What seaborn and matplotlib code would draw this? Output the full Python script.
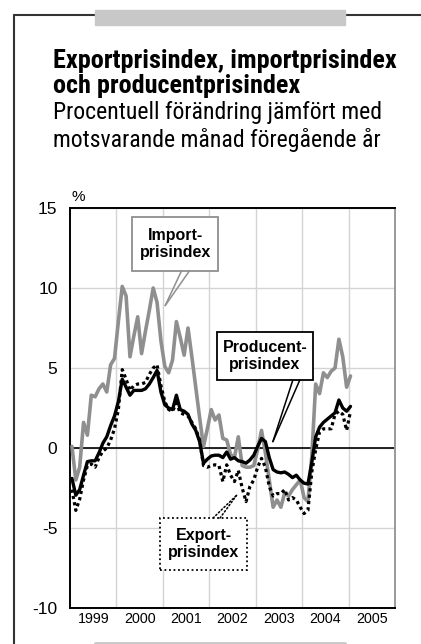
import pandas as pd
import seaborn as sns
import matplotlib.pyplot as plt
import matplotlib.font_manager as fm
from matplotlib.patches import Rectangle
from matplotlib.lines import Line2D

# månadsdata jan 1999 - jan 2005
manader = pd.date_range("1999-01-01", periods=73, freq="MS")

importpris = [0.1, -2.0, -1.2, 1.6, 0.8, 3.3, 3.2, 3.7, 4.0, 3.5, 5.2, 5.6,
              7.9, 10.1, 9.5, 5.7, 7.0, 8.2, 5.9, 7.3, 8.6, 10.0, 9.1, 6.7,
              5.1, 4.7, 5.5, 7.9, 6.9, 5.8, 7.5, 5.7, 3.8, 1.9, 0.1, 1.2,
              2.4, 1.75, 2.06, 0.6, 0.5, -0.4, -0.6, 0.7, -1.1, -1.2, -1.2, -1.1,
              -0.1, 1.1, -0.3, -2.0, -3.7, -3.25, -3.7, -2.8, -3.0, -2.6, -2.3, -2.0,
              -3.1, -3.35, -0.5, 4.0, 3.4, 4.7, 4.4, 4.8, 5.0, 6.8, 5.7, 3.8,
              4.5]

producentpris = [-1.9, -2.95, -2.6, -1.7, -0.85, -0.8, -0.8, -0.3, 0.3, 0.7, 1.4, 2.0,
                 2.9, 4.3, 3.8, 3.3, 3.6, 3.6, 3.6, 3.7, 4.0, 4.4, 4.85, 3.5,
                 2.7, 2.5, 2.4, 3.3, 2.4, 2.3, 2.1, 1.5, 1.1, 0.4, -0.95, -0.7,
                 -0.5, -0.45, -0.45, -0.6, -0.25, -0.7, -0.6, -0.8, -0.85, -0.95, -0.75, -0.45,
                 0.1, 0.6, 0.4, -0.6, -1.35, -1.5, -1.55, -1.5, -1.65, -1.85, -1.7, -2.0,
                 -2.2, -2.25, -0.9, 0.7, 1.3, 1.6, 1.8, 2.0, 2.2, 3.0, 2.5, 2.3,
                 2.6]

exportpris = [-2.6, -3.9, -3.2, -2.0, -1.1, -1.0, -1.2, -0.6, -0.2, 0.0, 0.5, 1.2,
              2.4, 4.9, 4.3, 3.6, 3.9, 4.0, 4.0, 4.1, 4.6, 5.0, 5.2, 3.9,
              2.9, 2.4, 2.3, 2.8, 2.2, 2.1, 2.0, 1.6, 1.2, 0.5, -1.1, -1.2,
              -1.1, -1.05, -1.1, -2.1, -1.05, -1.7, -2.1, -1.4, -2.5, -3.35, -2.4, -2.0,
              -1.2, -0.65, -1.2, -2.4, -3.0, -2.85, -2.85, -2.6, -3.25, -3.1, -3.25, -3.7,
              -4.1, -3.9, -1.5, -0.1, 1.0, 1.2, 1.2, 1.2, 2.1, 2.3, 2.1, 1.1,
              2.3]

ar = [1999, 2000, 2001, 2002, 2003, 2004, 2005]
yticks = [-10, -5, 0, 5, 10, 15]

df = pd.DataFrame({
    "tid": manader.year + (manader.month - 0.5) / 12,
    "Import": importpris,
    "Producent": producentpris,
    "Export": exportpris,
})

sns.set_style("white")
plt.rcParams["font.family"] = ["Liberation Sans", "DejaVu Sans"]
plt.rcParams["text.color"] = "black"
plt.rcParams["xtick.color"] = "black"
plt.rcParams["ytick.color"] = "black"


# smal font till rubriken om en sådan finns, annars Liberation Sans
def hitta_font(bold):
    for f in fm.fontManager.ttflist:
        namn = f.fname.lower()
        if not any(k in namn for k in ["narrow", "condensed"]):
            continue
        if not any(k in namn for k in ["liberation", "roboto", "notosans", "opensans", "lato", "inter"]):
            continue
        if any(k in namn for k in ["italic", "light", "thin", "semi", "extra", "black", "medium"]):
            continue
        if ("bold" in namn) == bold:
            return fm.FontProperties(fname=f.fname)
    return fm.FontProperties(family="Liberation Sans", weight="bold" if bold else "normal")


W, H = 421, 644
fig = plt.figure(figsize=(W / 100, H / 100), dpi=100)
ax = fig.add_axes([70 / W, 1 - 608 / H, 325 / W, 400 / H])

sns.lineplot(data=df, x="tid", y="Import", color="#8f8f8f", lw=2.6, ax=ax, zorder=3)
sns.lineplot(data=df, x="tid", y="Export", color="black", lw=2.3,
             linestyle=(0, (1, 1)), ax=ax, zorder=4)
sns.lineplot(data=df, x="tid", y="Producent", color="black", lw=2.4, ax=ax, zorder=5)

ax.set_xlim(1999, 2006)
ax.set_ylim(-10, 15)
ax.set_xticks(range(2000, 2006))
ax.set_xticklabels([])
ax.set_xticks([a + 0.5 for a in ar], minor=True)
ax.set_xticklabels([str(a) for a in ar], minor=True, fontsize=10.3)
ax.set_yticks(yticks)
ax.set_yticklabels([str(v) for v in yticks], fontsize=12.5)
ax.tick_params(which="both", length=0)
ax.tick_params(axis="x", which="minor", pad=3)
ax.tick_params(axis="y", pad=9)
ax.grid(True, which="major", color="#d4d4d4", lw=1)
ax.axhline(0, color="black", lw=1.2, zorder=2)
ax.set_xlabel("")
ax.set_ylabel("")

for s in ["left", "bottom", "top"]:
    ax.spines[s].set_color("black")
    ax.spines[s].set_linewidth(1.4)
ax.spines["right"].set_color("#9a9a9a")
ax.spines["right"].set_linewidth(1.4)


# etiketter med pekare
def ruta(x0, x1, y0, y1, text, kant, stil):
    ax.add_patch(Rectangle((x0, y0), x1 - x0, y1 - y0, facecolor="white",
                           edgecolor=kant, lw=1.3, linestyle=stil, zorder=6))
    ax.text((x0 + x1) / 2, (y0 + y1) / 2, text, ha="center", va="center",
            fontsize=11.5, fontweight="bold", linespacing=1.15, color="black", zorder=7)


def pekare(bas, spets, farg, stil):
    for b in bas:
        ax.annotate("", xy=spets, xytext=b, zorder=6,
                    arrowprops=dict(arrowstyle="-", color=farg, lw=1.1,
                                    linestyle=stil, shrinkA=0, shrinkB=0))


ruta(2000.34, 2002.19, 11.06, 14.44, "Import-\nprisindex", "#8f8f8f", "-")
pekare([(2001.40, 11.06), (2001.57, 11.06)], (2001.05, 8.9), "#8f8f8f", "-")

ruta(2002.17, 2004.23, 4.25, 7.25, "Producent-\nprisindex", "black", "-")
pekare([(2003.80, 4.25), (2003.95, 4.25)], (2003.37, 0.4), "black", "-")

ruta(2000.94, 2002.81, -7.62, -4.38, "Export-\nprisindex", "black", (0, (1, 1.5)))
pekare([(2002.08, -4.38), (2002.23, -4.38)], (2002.59, -2.95), "black", (0, (1, 1.5)))

fig.text(78 / W, 1 - 197 / H, "%", ha="center", va="center", fontsize=11)

# rubriker, storleken anpassas till bredden i förlagan
fet = hitta_font(True)
vanlig = hitta_font(False)
rader = [
    ("Exportprisindex, importprisindex", 68, fet, 357),
    ("och producentprisindex", 93, fet, 239),
    ("Procentuell förändring jämfört med", 119, vanlig, 334),
    ("motsvarande månad föregående år", 147, vanlig, 325),
]
fig.canvas.draw()
renderer = fig.canvas.get_renderer()
storlek = []
texter = []
for txt, ypix, fp, bredd in rader:
    t = fig.text(53 / W, 1 - ypix / H, txt, fontproperties=fp.copy(),
                 va="baseline", color="black")
    t.set_fontsize(18)
    w = t.get_window_extent(renderer).width
    storlek.append(18 * bredd / w)
    texter.append(t)
# samma storlek för rader med samma stil
fs_titel = (storlek[0] + storlek[1]) / 2
fs_under = (storlek[2] + storlek[3]) / 2
for i, t in enumerate(texter):
    t.set_fontsize(fs_titel if i < 2 else fs_under)


# ram runt figuren
def fx(px):
    return px / W


def fy(py):
    return 1 - py / H


fig.add_artist(Line2D([fx(14), fx(14)], [fy(15), fy(644)], color="#333333", lw=1.5))
fig.add_artist(Line2D([fx(14), fx(421)], [fy(15), fy(15)], color="#333333", lw=1.5))
fig.add_artist(Rectangle((fx(95), fy(25)), fx(345) - fx(95), fy(10) - fy(25),
                         transform=fig.transFigure, color="#c8c8c8", zorder=3))
fig.add_artist(Line2D([fx(95), fx(345)], [fy(643), fy(643)], color="#c8c8c8", lw=2))

fig.savefig("out.png", dpi=100)
